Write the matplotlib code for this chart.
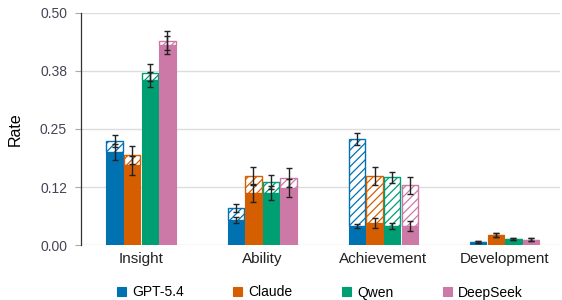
import numpy as np
import matplotlib.pyplot as plt

categories = ["Insight", "Ability", "Achievement", "Development"]
models = ["GPT-5.4", "Claude", "Qwen", "DeepSeek"]
colors = ["#0072B2", "#D55E00", "#009E73", "#CC79A7"]

# solid (lower) part and total (solid + hatched) per model, per category
solid = {
    "GPT-5.4":  [0.200, 0.054, 0.041, 0.006],
    "Claude":   [0.172, 0.112, 0.048, 0.021],
    "Qwen":     [0.356, 0.112, 0.041, 0.013],
    "DeepSeek": [0.431, 0.123, 0.041, 0.012],
}
total = {
    "GPT-5.4":  [0.224, 0.080, 0.228, 0.006],
    "Claude":   [0.194, 0.149, 0.149, 0.021],
    "Qwen":     [0.371, 0.136, 0.146, 0.013],
    "DeepSeek": [0.440, 0.145, 0.129, 0.012],
}
solid_err = {
    "GPT-5.4":  [0.017, 0.006, 0.005, 0.002],
    "Claude":   [0.020, 0.020, 0.011, 0.004],
    "Qwen":     [0.016, 0.015, 0.006, 0.003],
    "DeepSeek": [0.020, 0.020, 0.010, 0.003],
}
total_err = {
    "GPT-5.4":  [0.013, 0.008, 0.013, 0.002],
    "Claude":   [0.020, 0.020, 0.020, 0.004],
    "Qwen":     [0.018, 0.015, 0.012, 0.003],
    "DeepSeek": [0.020, 0.020, 0.018, 0.003],
}

plt.rcParams['font.family'] = ['Liberation Sans', 'DejaVu Sans']
plt.rcParams['hatch.linewidth'] = 0.9

fig = plt.figure(figsize=(5.62, 3.0), dpi=100)
ax = fig.add_axes([0.144, 0.183, 0.853, 0.774])

x = np.arange(len(categories))
step = 0.145
width = 0.135

for i, m in enumerate(models):
    pos = x + (i - 1.5) * step
    s = np.array(solid[m])
    t = np.array(total[m])
    c = colors[i]
    ax.bar(pos, s, width, color=c, edgecolor=c, linewidth=0.8, zorder=3, label=m)
    plt.rcParams['hatch.color'] = c
    ax.bar(pos, t - s, width, bottom=s, facecolor="white", edgecolor=c,
           hatch="////", linewidth=1.0, zorder=3)
    ax.errorbar(pos, s, yerr=solid_err[m], fmt="none", ecolor="#222222",
                elinewidth=1.0, capsize=2.5, capthick=1.0, zorder=4)
    ax.errorbar(pos, t, yerr=total_err[m], fmt="none", ecolor="#222222",
                elinewidth=1.0, capsize=2.5, capthick=1.0, zorder=4)

ax.set_ylim(0, 0.5)
ax.set_xlim(-0.496, 3.46)
yt = [0, 0.125, 0.25, 0.375, 0.5]
ax.set_yticks(yt)
ax.set_yticklabels(["0.00", "0.12", "0.25", "0.38", "0.50"], color="#444455", fontsize=10)
ax.set_xticks(x)
ax.set_xticklabels(categories, fontsize=11, color="#222222")
ax.tick_params(axis="x", length=0, pad=5)
ax.tick_params(axis="y", length=4, width=0.8, color="#aaaaaa", pad=6)
ax.set_ylabel("Rate", fontsize=11.5, labelpad=12)

ax.grid(axis="y", color="#dddddd", linewidth=1.0, zorder=0)
ax.set_axisbelow(True)
for sp in ["top", "right", "bottom"]:
    ax.spines[sp].set_visible(False)
ax.spines["left"].set_color("#333333")
ax.spines["left"].set_linewidth(0.9)

handles, labels = ax.get_legend_handles_labels()
fig.legend(handles, labels, loc="lower center", bbox_to_anchor=(0.569, -0.04), ncol=4,
           frameon=False, fontsize=10, handlelength=0.65, handleheight=0.65,
           handletextpad=0.45, columnspacing=3.55)

fig.savefig("out.png", dpi=100)
